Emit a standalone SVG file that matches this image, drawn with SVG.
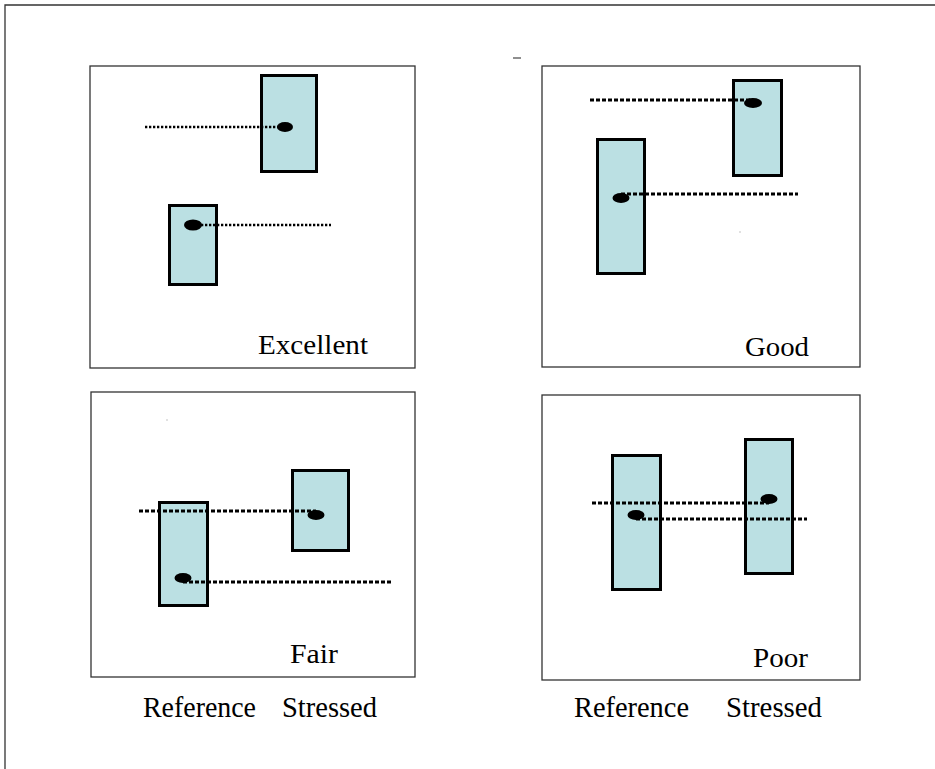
<svg xmlns="http://www.w3.org/2000/svg" width="935" height="769" viewBox="0 0 935 769">
<style>
.frame{fill:none;stroke:#333;stroke-width:1.3}
.bar{fill:#bbe0e3;stroke:#000;stroke-width:3}
.dot{fill:#000}
.dotted{stroke:#000;stroke-width:2.4;stroke-dasharray:2.3 1.7;fill:none}
.dashed{stroke:#000;stroke-width:3;stroke-dasharray:4 2;fill:none}
text{font-family:"Liberation Serif","Times New Roman",serif;font-size:27px;fill:#000}
.axis{font-size:30px}
</style>
<rect width="935" height="769" fill="#fff"/>
<path class="frame" d="M5,769 V5 H935"/>
<line x1="513" y1="58" x2="521" y2="58" stroke="#444" stroke-width="1.2"/>

<g id="panel-excellent">
<rect class="frame" x="90" y="66" width="325" height="302"/>
<rect class="bar" x="261.5" y="75.5" width="55" height="96"/>
<rect class="bar" x="169.5" y="205.5" width="47" height="79"/>
<text x="258" y="354" textLength="110" lengthAdjust="spacingAndGlyphs">Excellent</text>
</g>
<g id="panel-good">
<rect class="frame" x="542" y="66" width="318" height="301"/>
<rect class="bar" x="733.5" y="80.5" width="48" height="95"/>
<rect class="bar" x="597.5" y="139.5" width="47" height="134"/>
<rect x="739.5" y="231.5" width="1" height="1" fill="#888"/>
<text x="745" y="356" textLength="64" lengthAdjust="spacingAndGlyphs">Good</text>
</g>
<g id="panel-fair">
<rect class="frame" x="91" y="392" width="324" height="285"/>
<rect class="bar" x="292.5" y="470.5" width="56" height="80"/>
<rect class="bar" x="159.5" y="502.5" width="48" height="103"/>
<rect x="166.5" y="419.5" width="1" height="1" fill="#888"/>
<text x="290" y="663" textLength="48" lengthAdjust="spacingAndGlyphs">Fair</text>
</g>
<g id="panel-poor">
<rect class="frame" x="542" y="395" width="318" height="285"/>
<rect class="bar" x="745.5" y="439.5" width="47" height="134"/>
<rect class="bar" x="612.5" y="455.5" width="48" height="134"/>
<text x="753" y="667" textLength="55" lengthAdjust="spacingAndGlyphs">Poor</text>
</g>

<g id="connectors">
<line class="dotted" x1="145" y1="127" x2="285" y2="127"/>
<line class="dotted" x1="193" y1="225" x2="331" y2="225"/>
<line class="dashed" x1="590" y1="100" x2="753" y2="100"/>
<line class="dashed" x1="621" y1="194" x2="798" y2="194"/>
<line class="dashed" x1="139" y1="511" x2="316" y2="511"/>
<line class="dashed" x1="183" y1="582" x2="393" y2="582"/>
<line class="dashed" x1="592" y1="503" x2="769" y2="503"/>
<line class="dashed" x1="636" y1="519" x2="807" y2="519"/>
</g>
<g id="points">
<ellipse class="dot" cx="285" cy="127" rx="8" ry="5"/>
<ellipse class="dot" cx="193" cy="225" rx="9" ry="5.5"/>
<ellipse class="dot" cx="753" cy="103" rx="9" ry="5"/>
<ellipse class="dot" cx="621" cy="198" rx="8.5" ry="5"/>
<ellipse class="dot" cx="316" cy="515" rx="8.5" ry="5"/>
<ellipse class="dot" cx="183" cy="578" rx="8.5" ry="5"/>
<ellipse class="dot" cx="769" cy="499" rx="8.5" ry="5"/>
<ellipse class="dot" cx="636" cy="515" rx="8.5" ry="5"/>
</g>

<g id="axis-labels">
<text class="axis" x="143" y="717" textLength="113" lengthAdjust="spacingAndGlyphs">Reference</text>
<text class="axis" x="282" y="717" textLength="95" lengthAdjust="spacingAndGlyphs">Stressed</text>
<text class="axis" x="574" y="717" textLength="115" lengthAdjust="spacingAndGlyphs">Reference</text>
<text class="axis" x="726" y="717" textLength="96" lengthAdjust="spacingAndGlyphs">Stressed</text>
</g>
</svg>
